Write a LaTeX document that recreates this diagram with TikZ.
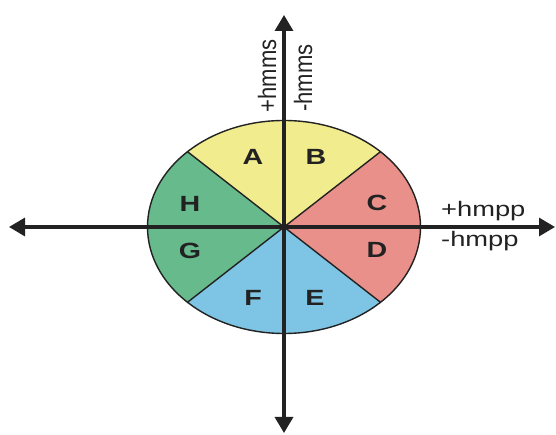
\documentclass[tikz,border=0pt]{standalone}
\usepackage{fontspec}
\setmainfont{Liberation Sans}
\usetikzlibrary{arrows.meta}
\definecolor{yel}{HTML}{F1EC8E}
\definecolor{redd}{HTML}{E9908A}
\definecolor{grn}{HTML}{66BA8C}
\definecolor{blu}{HTML}{7EC4E4}
\definecolor{ink}{HTML}{222222}
\tikzset{
  axis/.style={line width=3.2pt, draw=ink, -{Triangle[length=16pt,width=18pt]}},
  divider/.style={line width=1.4pt, draw=ink},
  sectorlbl/.style={text=ink, font=\fontsize{22}{22}\selectfont\bfseries, inner sep=0pt},
  axlbl/.style={text=ink, font=\fontsize{21}{21}\selectfont, inner sep=0pt},
}
\begin{document}
\begin{tikzpicture}[x=1pt,y=1pt]
\useasboundingbox (0,0) rectangle (556,435);
\fill[white] (0,0) rectangle (556,435);
\coordinate (c) at (284,208);
% sectors
\fill[yel] (c) -- ++(45:136.5 and 106.5) arc[start angle=45, end angle=135, x radius=136.5, y radius=106.5] -- cycle;
\fill[grn] (c) -- ++(135:136.5 and 106.5) arc[start angle=135, end angle=225, x radius=136.5, y radius=106.5] -- cycle;
\fill[blu] (c) -- ++(225:136.5 and 106.5) arc[start angle=225, end angle=315, x radius=136.5, y radius=106.5] -- cycle;
\fill[redd] (c) -- ++(-45:136.5 and 106.5) arc[start angle=-45, end angle=45, x radius=136.5, y radius=106.5] -- cycle;
% dividers
\foreach \a in {45,135,225,315} \draw[divider] (c) -- ++(\a:136.5 and 106.5);
\draw[divider] (c) ellipse[x radius=136.5, y radius=106.5];
% axes
\coordinate (top) at (284,420);
\coordinate (bot) at (284,2);
\coordinate (lft) at (9,208);
\coordinate (rgt) at (555,208);
\draw[axis] (c) -- (top);
\draw[axis] (c) -- (bot);
\draw[axis] (c) -- (lft);
\draw[axis] (c) -- (rgt);
\fill[ink] (c) circle (3);
% sector labels
\node[sectorlbl] (A) at (253,278) {\scalebox{1.3}[1]{A}};
\node[sectorlbl] (B) at (316,278) {\scalebox{1.3}[1]{B}};
\node[sectorlbl] (H) at (190,231) {\scalebox{1.3}[1]{H}};
\node[sectorlbl] (C) at (377,232) {\scalebox{1.3}[1]{C}};
\node[sectorlbl] (G) at (190,184) {\scalebox{1.3}[1]{G}};
\node[sectorlbl] (D) at (377,185) {\scalebox{1.3}[1]{D}};
\node[sectorlbl] (F) at (253,137) {\scalebox{1.3}[1]{F}};
\node[sectorlbl] (E) at (315,137) {\scalebox{1.3}[1]{E}};
% axis labels
\node[axlbl, rotate=90] (pms) at (267,359) {\scalebox{1.05}[1.2]{+hmms}};
\node[axlbl, rotate=90] (mms) at (303,357) {\scalebox{1.05}[1.2]{-hmms}};
\node[axlbl, anchor=west] (ppp) at (441,224) {\scalebox{1.3}[1]{+hmpp}};
\node[axlbl, anchor=west] (mpp) at (441,194) {\scalebox{1.3}[1]{-hmpp}};
\end{tikzpicture}
\end{document}
